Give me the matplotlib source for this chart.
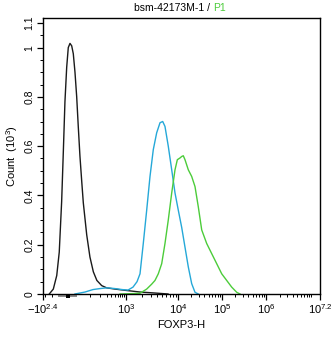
import numpy as np
import matplotlib
matplotlib.use("Agg")
import matplotlib.pyplot as plt
from matplotlib.patches import Rectangle
import matplotlib.transforms as mtransforms

plt.rcParams['font.family'] = ['Liberation Sans', 'DejaVu Sans']
plt.rcParams['mathtext.default'] = 'regular'

# histogram traces: FOXP3-H intensity vs count (x10^3)
ctrl_x = [-134, -87, -58, -41, -27, -18, -10, -1.5, 4, 9.4, 14.9, 20.2, 26, 32.2,
          38.2, 45, 52.6, 60.3, 78.5, 99, 125, 158, 216, 296, 501, 940, 1860,
          3610, 6430]
ctrl_y = [0, 0.02, 0.075, 0.17, 0.375, 0.58, 0.78, 0.92, 1.0, 1.017, 1.007,
          0.975, 0.9, 0.8, 0.68, 0.56, 0.46, 0.37, 0.24, 0.15, 0.09, 0.055,
          0.034, 0.025, 0.02, 0.015, 0.008, 0.004, 0]

iso_x = [26, 69, 122, 193, 303, 501, 780, 1093, 1365, 1630, 1860, 2150, 2500,
         2895, 3350, 3890, 4510, 5080, 5620, 6500, 7570, 8760, 10160, 12140,
         14420, 17140, 20470, 24340, 28910]
iso_y = [0, 0.008, 0.018, 0.022, 0.025, 0.022, 0.018, 0.016, 0.028, 0.05, 0.082,
         0.205, 0.34, 0.477, 0.586, 0.654, 0.695, 0.70, 0.68, 0.60, 0.504, 0.41,
         0.34, 0.27, 0.19, 0.11, 0.042, 0.007, 0]

p1_x = [687, 1093, 1490, 1860, 2500, 3120, 3610, 4180, 4860, 5620, 6500, 7570,
        8760, 9710, 11100, 12140, 13190, 14420, 17140, 20470, 24340, 28910,
        34590, 44870, 58290, 75800, 98500, 127900, 166000, 215800, 256500]
p1_y = [0, 0.001, 0.002, 0.003, 0.02, 0.04, 0.055, 0.082, 0.123, 0.205, 0.30,
        0.41, 0.504, 0.545, 0.552, 0.558, 0.561, 0.545, 0.504, 0.477, 0.436,
        0.354, 0.26, 0.205, 0.164, 0.123, 0.082, 0.055, 0.028, 0.007, 0]

x_major = [-10**2.4, 1e3, 1e4, 1e5, 1e6, 10**7.2]
x_major_labels = ['$-10^{2.4}$', '$10^{3}$', '$10^{4}$', '$10^{5}$', '$10^{6}$', '$10^{7.2}$']
y_major = [0, 0.2, 0.4, 0.6, 0.8, 1.0, 1.1]
y_major_labels = ['0', '0.2', '0.4', '0.6', '0.8', '1', '1.1']

# biexponential-like axis: anchors in asinh space -> axis units
_anchor_v = np.array([-10**2.4, 0, 1e3, 1e4, 1e5, 1e6, 10**7.2])
_anchor_p = np.array([0, 24, 83, 135, 179, 223, 277], dtype=float)
_anchor_h = np.arcsinh(_anchor_v / 50)


def fwd(v):
    return np.interp(np.arcsinh(np.asarray(v, dtype=float) / 50), _anchor_h, _anchor_p)


def inv(p):
    return 50 * np.sinh(np.interp(np.asarray(p, dtype=float), _anchor_p, _anchor_h))


fig = plt.figure(figsize=(3.34, 3.37), dpi=100)
ax = fig.add_axes([43 / 334, 1 - 294 / 337, 277 / 334, 276 / 337])
ax.set_xscale('function', functions=(fwd, inv))

ax.plot(ctrl_x, ctrl_y, color='#1a1a1a', lw=1.0)
ax.plot(iso_x, iso_y, color='#25a8d8', lw=1.0)
ax.plot(p1_x, p1_y, color='#4ccc3a', lw=1.0)

ax.set_xlim(-10**2.4, 10**7.2)
ax.set_ylim(0, 1.12)

minor_x = [-200, -100] + [m * 10**k for k in range(2, 7) for m in range(2, 10)] + [100, 1e7]
ax.set_xticks(x_major)
ax.set_xticklabels(x_major_labels, fontsize=8)
ax.set_xticks(minor_x, minor=True)
ax.set_yticks(y_major)
ax.set_yticklabels(y_major_labels, fontsize=7.5, rotation=90, va='center')
ax.set_yticks(np.arange(0, 1.11, 0.05), minor=True)
ax.tick_params(axis='both', which='major', length=4, width=0.9, pad=2)
ax.tick_params(axis='both', which='minor', length=2.5, width=0.7)
for s in ax.spines.values():
    s.set_linewidth(1.0)

# gray marker band on the x axis around zero
trans = mtransforms.blended_transform_factory(ax.transData, ax.transAxes)
ax.add_patch(Rectangle((-50, -0.012), 85, 0.012, transform=trans,
                       color='#8c8c8c', clip_on=False, lw=0))
ax.add_patch(Rectangle((-6, -0.014), 14, 0.014, transform=trans,
                       color='black', clip_on=False, lw=0))

ax.set_xlabel('FOXP3-H', fontsize=8, labelpad=3)
ax.set_ylabel('Count  (10$^{3}$)', fontsize=8, labelpad=3)

fig.text(0.638, 0.975, 'bsm-42173M-1 / ', ha='right', va='center', fontsize=7.5)
fig.text(0.638, 0.975, 'P1', ha='left', va='center', fontsize=7.5, color='#4ccc3a')

fig.savefig('out.png', dpi=100)
